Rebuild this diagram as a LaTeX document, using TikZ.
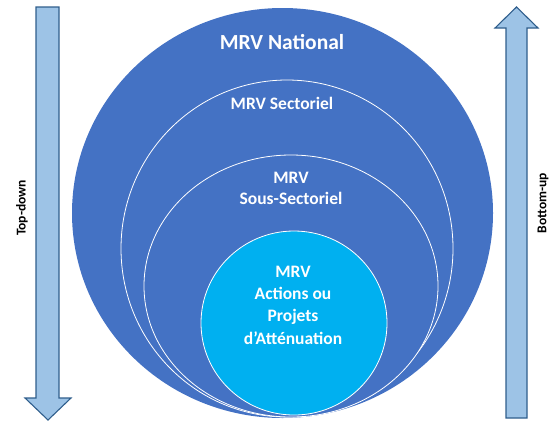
\documentclass[tikz,border=0pt]{standalone}
\usepackage{fontspec}
\setmainfont{Carlito}
\usetikzlibrary{shapes.geometric}
\definecolor{outerblue}{HTML}{4472C4}
\definecolor{innerblue}{HTML}{00B0F0}
\definecolor{arrowfill}{HTML}{9DC3E6}
\definecolor{arrowline}{HTML}{2F5E8C}
\tikzset{
  ring/.style={ellipse, draw=white, line width=0.8pt, inner sep=0pt},
  ringtext/.style={text=white, font=\bfseries, align=center, inner sep=0pt},
  bigarrow/.style={fill=arrowfill, draw=arrowline, line width=1.1pt, line join=miter},
  sidetext/.style={font=\bfseries\fontsize{13.5}{16}\selectfont, rotate=90, inner sep=0pt}
}
\begin{document}
\begin{tikzpicture}[x=1pt,y=-1pt]
\useasboundingbox (0,0) rectangle (553,421);
% circles
\node[ellipse, fill=outerblue, inner sep=0pt, minimum width=421pt, minimum height=410pt] (national) at (282.5,213) {};
\node[ring, fill=outerblue, minimum width=332pt, minimum height=337pt] (sectoriel) at (287,248.5) {};
\node[ring, fill=outerblue, minimum width=294pt, minimum height=262pt] (sous) at (291,286) {};
\node[ring, fill=innerblue, minimum width=186pt, minimum height=184pt] (actions) at (294,323) {};
% labels
\node[ringtext, font=\bfseries\fontsize{21.5}{24}\selectfont] (tnat) at (282,42) {MRV National};
\node[ringtext, font=\bfseries\fontsize{17.5}{20}\selectfont] (tsec) at (282,103) {MRV Sectoriel};
\node[ringtext, font=\bfseries\fontsize{17.5}{21}\selectfont] (tsous) at (291,188) {MRV\\Sous-Sectoriel};
\node[ringtext, font=\bfseries\fontsize{17.5}{22.3}\selectfont] (tact) at (293,305) {MRV\\Actions ou\\Projets\\d’Atténuation};
% arrows
\draw[bigarrow] (36,7) -- (59,7) -- (59,398) -- (71,398) -- (48,420) -- (25,398) -- (36,398) -- cycle;
\draw[bigarrow] (506,418) -- (527,418) -- (527,28) -- (538,28) -- (516.5,7) -- (495,28) -- (506,28) -- cycle;
\node[sidetext] (td) at (22,208) {Top-down};
\node[sidetext] (bu) at (543,203) {Bottom-up};
\end{tikzpicture}
\end{document}
